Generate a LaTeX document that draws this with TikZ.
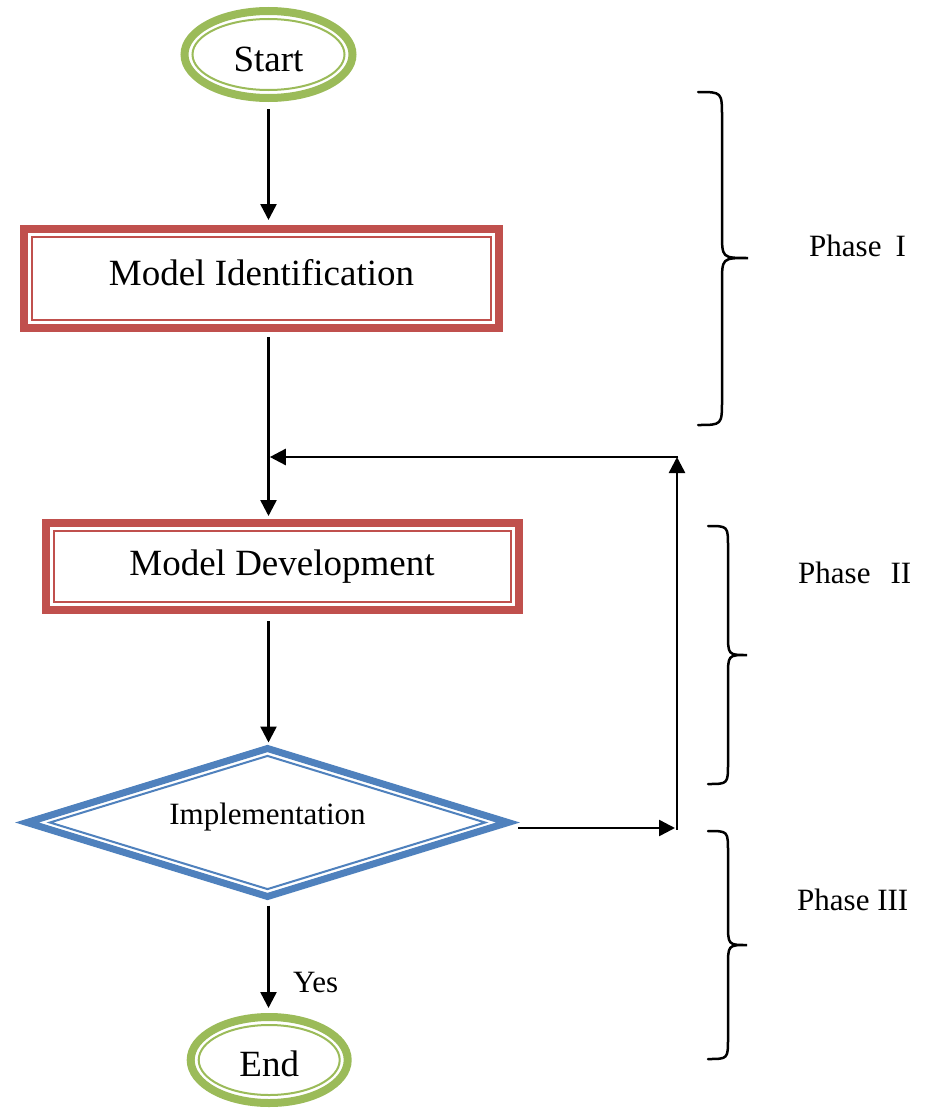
\documentclass[tikz,border=0pt]{standalone}
\usepackage{fontspec}
\setmainfont{Liberation Serif}
\usetikzlibrary{arrows.meta,shapes.geometric}
\definecolor{ogreen}{HTML}{9BBB59}
\definecolor{ored}{HTML}{C0504D}
\definecolor{oblue}{HTML}{4F81BD}
\tikzset{
  bigtext/.style={font=\fontsize{37}{44}\selectfont},
  smalltext/.style={font=\fontsize{31}{37}\selectfont},
  termout/.style={ellipse, draw=ogreen, line width=8pt, fill=white, inner sep=0pt, outer sep=4pt, bigtext},
  termin/.style={ellipse, draw=ogreen, line width=2pt, inner sep=0pt},
  procout/.style={rectangle, draw=ored, line width=8pt, fill=white, inner sep=0pt, outer sep=4pt, bigtext},
  procin/.style={rectangle, draw=ored, line width=2pt, inner sep=0pt},
  decout/.style={diamond, aspect=3.25, draw=oblue, line width=7pt, fill=white, inner sep=0pt, outer sep=0pt, line join=miter, smalltext},
  decin/.style={diamond, aspect=3.25, draw=oblue, line width=2pt, inner sep=0pt, line join=miter},
  arr/.style={line width=2.5pt, -{Triangle[length=16pt,width=16pt]}},
  brace/.style={line width=2.5pt, line cap=round},
  phaselabel/.style={smalltext, anchor=base west, inner sep=0pt}
}
\begin{document}
\begin{tikzpicture}[x=1pt,y=-1pt]
\useasboundingbox (0,0) rectangle (924,1108);

% Start
\node[termout, minimum width=168pt, minimum height=87pt, text height=33pt, text depth=0pt] (start) at (268.5,54.5) {Start};
\node[termin, minimum width=152pt, minimum height=71pt] (startin) at (start.center) {};

% Model Identification
\node[procout, minimum width=475pt, minimum height=99pt, text height=25pt, text depth=12pt] (mi) at (261.5,278.5) {Model Identification};
\node[procin, minimum width=459pt, minimum height=83pt] (miin) at (mi.center) {};

% Model Development
\node[procout, minimum width=473pt, minimum height=87pt] (md) at (282,566.5) {Model Development};
\node[procin, minimum width=457pt, minimum height=71pt] (mdin) at (md.center) {};

% Implementation
\node[decout, minimum width=481pt, minimum height=148pt, text height=21pt, text depth=18pt] (dia) at (267.5,822.5) {Implementation};
\node[decin, minimum width=436pt, minimum height=134pt] (diain) at (dia.center) {};

% End
\node[termout, minimum width=157pt, minimum height=86pt, text height=33pt, text depth=0pt] (end) at (269.2,1060) {End};
\node[termin, minimum width=141pt, minimum height=70pt] (endin) at (end.center) {};

% connectors
\draw[arr, shorten <=7pt, shorten >=5pt] (start.south) -- (start.south |- mi.north);
\draw[arr, shorten <=5pt, shorten >=3pt] (start.south |- mi.south) -- (start.south |- md.north);
\draw[arr, shorten <=7pt, shorten >=6pt] (start.south |- md.south) -- (start.south |- dia.north);
\draw[arr, shorten <=9pt, shorten >=5pt] (start.south |- dia.south) -- (start.south |- end.north);
\node[smalltext, anchor=base west, inner sep=0pt] (yes) at (293,992) {Yes};

\coordinate (fbA) at (675,828);
\coordinate (fbB) at (677,829.5);
\coordinate (fbT) at (677,457);
\draw[arr] ([shift={(10,5.5)}]dia.east) -- (fbA);
\draw[arr] (fbB) -- (fbT);
\draw[arr, shorten >=1.3pt] ([xshift=1.25pt]fbT) -- (start.south |- fbT);

% braces
\draw[brace] (698,92) .. controls (722,92) .. (722,117) -- (722,233)
  .. controls (722,258) .. (748,258) .. controls (722,258) .. (722,283)
  -- (722,400) .. controls (722,425) .. (698,425);
\draw[brace] (708,526) .. controls (728,526) .. (728,547) -- (728,633)
  .. controls (728,655) .. (747,655) .. controls (728,655) .. (728,677)
  -- (728,763) .. controls (728,784) .. (708,784);
\draw[brace] (708,831) .. controls (728,831) .. (728,852) -- (728,923)
  .. controls (728,945) .. (747,945) .. controls (728,945) .. (728,967)
  -- (728,1038) .. controls (728,1059) .. (708,1059);

\node[phaselabel] (p1) at (809,256) {Phase\hspace{14pt}I};
\node[phaselabel] (p2) at (798,583) {Phase\hspace{20pt}II};
\node[phaselabel] (p3) at (797,910) {Phase III};
\end{tikzpicture}
\end{document}
